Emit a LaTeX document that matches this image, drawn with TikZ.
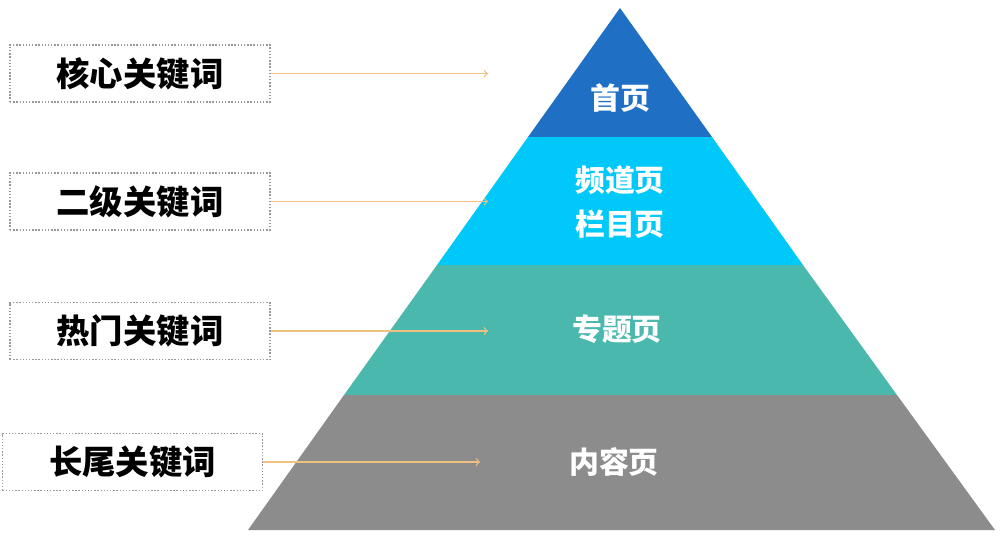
\documentclass[tikz,border=0pt]{standalone}
\usepackage{fontspec}
\newfontfamily\cjk{Noto Sans CJK SC}
\usetikzlibrary{calc}
\usetikzlibrary{arrows}
\definecolor{topblue}{HTML}{1F6FC5}
\definecolor{skyblue}{HTML}{00C8F8}
\definecolor{teal}{HTML}{4BB8AE}
\definecolor{greyband}{HTML}{8C8C8C}
\definecolor{arrowcol}{HTML}{F0C080}
\tikzset{
  keybox/.style={draw=gray!80,densely dotted,line width=0.8pt,minimum width=5.2cm,minimum height=1.14cm,
    font=\cjk\bfseries\fontsize{19pt}{22pt}\selectfont,text=black},
  pagetext/.style={font=\cjk\bfseries\fontsize{17pt}{25pt}\selectfont,text=white,align=center},
  link/.style={arrowcol,line width=0.7pt,-to}
}
\begin{document}
\begin{tikzpicture}[x=0.02cm,y=-0.02cm]
    \path[use as bounding box] (0,0) rectangle (1000,539);
    % Pyramid bands.
    \fill[topblue] (620,8) -- (712,137) -- (528,137) -- cycle;
    \fill[skyblue] (528,137) -- (712,137) -- (803,265) -- (437,265) -- cycle;
    \fill[teal] (437,265) -- (803,265) -- (897,395) -- (344,395) -- cycle;
    \fill[greyband] (344,395) -- (897,395) -- (995,530) -- (248,530) -- cycle;
    % Page labels.
    \node[pagetext] (home) at (620,98) {首页};
    \node[pagetext] (channel) at (620,202) {频道页\\栏目页};
    \node[pagetext] (topic) at (617,329) {专题页};
    \node[pagetext] (content) at (614,462) {内容页};
    % Keyword boxes.
    \node[keybox] (core) at (140,73.5) {核心关键词};
    \node[keybox] (second) at (140,201.5) {二级关键词};
    \node[keybox] (hot) at (140,331) {热门关键词};
    \node[keybox] (tail) at (132.5,462) {长尾关键词};
    % Arrows.
    \coordinate (e1) at (488,73.5);
    \coordinate (e2) at (488,201.5);
    \coordinate (e3) at (488,331);
    \coordinate (e4) at (480,462);
    \draw[link] (core.east) -- (e1);
    \draw[link] (second.east) -- (e2);
    \draw[link] (hot.east) -- (e3);
    \draw[link] (tail.east) -- (e4);
\end{tikzpicture}
\end{document}
